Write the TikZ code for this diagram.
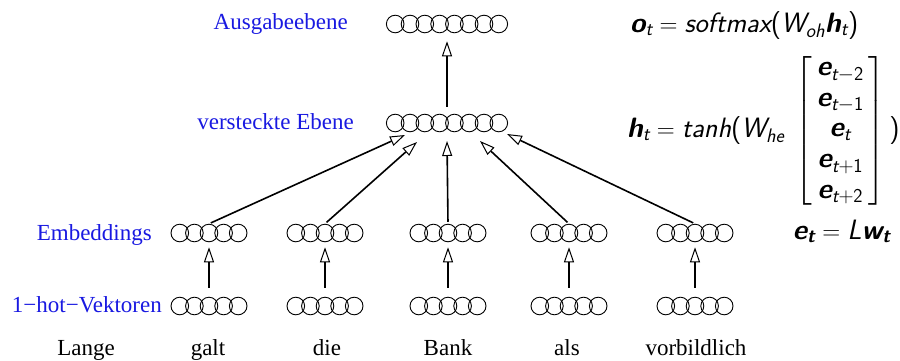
\documentclass[tikz,border=0pt]{standalone}
\usepackage{amsmath}
\usepackage{fontspec}
\setmainfont{Liberation Serif}
\usetikzlibrary{arrows.meta,calc}
\definecolor{lblue}{RGB}{25,25,225}
% sans-serif italic and bold italic symbols for the formulas
\newcommand\vb[1]{\textsf{\bfseries\itshape #1}}
\newcommand\vi[1]{\textsf{\itshape #1}}

\begin{document}
\begin{tikzpicture}[x=1pt,y=-1pt,
  unit/.style={circle,draw,line width=0.9pt,minimum size=17.6pt,inner sep=0pt},
  lbl/.style={text=lblue,anchor=base east,font=\fontsize{23}{28}\selectfont,inner sep=0pt},
  word/.style={anchor=base,font=\fontsize{23}{28}\selectfont,inner sep=0pt},
  eq/.style={inner sep=0pt,font=\fontsize{28}{34}\selectfont},
  link/.style={line width=1.6pt,-{Triangle[open,length=15pt,width=10pt,line width=1pt]}},
]
\useasboundingbox (0,0) rectangle (900,360);

% output and hidden layers (8 units each)
\foreach \i in {1,...,8} {
  \node[unit] (o\i) at ({447+(\i-4.5)*14.8},24) {};
  \node[unit] (h\i) at ({447+(\i-4.5)*14.8},123) {};
}

% embeddings and 1-hot vectors for the five context words
\foreach \g/\cx in {1/209,2/325,3/448,4/569,5/695} {
  \foreach \i in {1,...,5} {
    \node[unit] (e\g-\i) at ({\cx+(\i-3)*14.6},233) {};
    \node[unit] (x\g-\i) at ({\cx+(\i-3)*14.6},306) {};
  }
  \draw[link,shorten <=9pt,shorten >=5pt] (x\g-3.north) -- (e\g-3.south);
}

% arrow tips at the hidden layer
\coordinate (t1) at (405,135);
\coordinate (t2) at (417,142);
\coordinate (t3) at (447,141);
\coordinate (t4) at (480,141);
\coordinate (t5) at (507,134);
\foreach \g in {1,...,5}
  \draw[link,shorten <=2pt] (e\g-3.north) -- (t\g);

% hidden -> output
\draw[link,shorten <=7pt,shorten >=8pt]
  ($(h4.north)!0.5!(h5.north)$) -- ($(o4.south)!0.5!(o5.south)$);

% layer labels
\node[lbl] (lout) at (348,29) {Ausgabeebene};
\node[lbl] (lhid) at (354,129) {versteckte Ebene};
\node[lbl] (lemb) at (152,240) {Embeddings};
\node[lbl] (lone) at (162,312) {1−hot−Vektoren};

% input words
\node[word] (w0) at (86,355) {Lange};
\node[word] (w1) at (208,355) {galt};
\node[word] (w2) at (327,355) {die};
\node[word] (w3) at (448,355) {Bank};
\node[word] (w4) at (567,355) {als};
\node[word] (w5) at (696,355) {vorbildlich};

% formulas
\node[eq,anchor=base west] (eqo) at (630,32)
  {$\vb{o}_{\vi{t}} = \vi{softmax}\textsf{(}\vi{W}_{\vi{oh}}\vb{h}_{\vi{t}}\textsf{)}$};
\node[eq,anchor=base west] (eqh) at (627,137)
  {\renewcommand\arraystretch{0.9}%
   $\vb{h}_{\vi{t}} = \vi{tanh}\textsf{(}\vi{W}_{\vi{he}}\;
   \left[\begin{array}{c}
     \vb{e}_{\vi{t}-\textsf{2}}\\
     \vb{e}_{\vi{t}-\textsf{1}}\\
     \vb{e}_{\vi{t}}\\
     \vb{e}_{\vi{t}+\textsf{1}}\\
     \vb{e}_{\vi{t}+\textsf{2}}
   \end{array}\right]\textsf{)}$};
\node[eq,anchor=base east] (eqe) at (891,239)
  {$\vb{e}_{\vb{t}} = \vi{L}\vb{w}_{\vb{t}}$};
\end{tikzpicture}
\end{document}
